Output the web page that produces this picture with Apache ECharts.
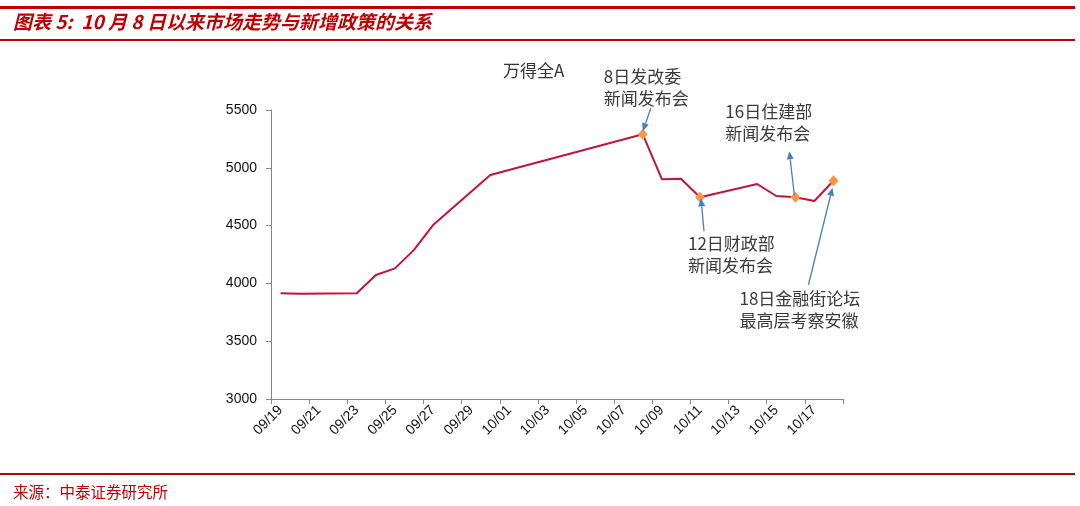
<!DOCTYPE html>
<html><head><meta charset="utf-8">
<script src="https://cdn.jsdelivr.net/npm/echarts@6/dist/echarts.min.js"></script>
<style>html,body{margin:0;padding:0;background:#fff}#c{width:1080px;height:506px}</style>
</head><body><div id="c"></div>
<script>
// ---- data ----
const categories = ['09/19','09/20','09/21','09/22','09/23','09/24','09/25','09/26','09/27','09/28','09/29','09/30',
  '10/01','10/02','10/03','10/04','10/05','10/06','10/07','10/08','10/09','10/10','10/11','10/12','10/13','10/14',
  '10/15','10/16','10/17','10/18'];
const values = [3915, 3910, null, null, 3914, 4073, 4130, 4290, 4505, null, null, 4938,
  null, null, null, null, null, null, null, 5290, 4902, 4905, 4745, null, null, 4860,
  4756, 4745, 4713, 4888];
const markerDates = ['10/08', '10/11', '10/16', '10/18'];
const yTicks = [3000, 3500, 4000, 4500, 5000, 5500];
const seriesName = '万得全A';
const pageTitle = '图表 5:  10 月 8 日以来市场走势与新增政策的关系';
const sourceText = '来源：中泰证券研究所';
const noteTexts = [
  ['8日发改委', '新闻发布会'],
  ['12日财政部', '新闻发布会'],
  ['16日住建部', '新闻发布会'],
  ['18日金融街论坛', '最高层考察安徽']
];

// ---- chart ----
const chart = echarts.init(document.getElementById('c'), null, {renderer: 'canvas'});
const RED = '#C00000';
const seriesData = values.map((v, i) => markerDates.includes(categories[i]) && v != null
  ? {value: v, symbol: 'diamond', symbolSize: [10, 11], itemStyle: {color: '#F79646'}}
  : v);

const option = {
  animation: false,
  backgroundColor: '#fff',
  grid: {left: 271, top: 110, width: 572, height: 289, containLabel: false},
  xAxis: {
    type: 'category', data: categories, boundaryGap: true,
    axisLine: {lineStyle: {color: '#868686', width: 1}},
    axisTick: {show: true, interval: 1, length: 5, lineStyle: {color: '#868686'}},
    axisLabel: {interval: 1, rotate: 45, fontSize: 14, color: '#111', fontFamily: 'Liberation Sans, Arial', margin: 9},
    splitLine: {show: false}
  },
  yAxis: {
    type: 'value', min: yTicks[0], max: yTicks[yTicks.length - 1], interval: 500,
    axisLine: {show: true, lineStyle: {color: '#868686', width: 1}},
    axisTick: {show: true, length: 5, lineStyle: {color: '#868686'}},
    axisLabel: {fontSize: 14, color: '#111', fontFamily: 'Liberation Sans, Arial', margin: 14,
      formatter: v => String(v)},
    splitLine: {show: false}
  },
  series: [{
    name: seriesName, type: 'line', data: seriesData, connectNulls: true,
    symbol: 'none', showSymbol: true, showAllSymbol: true,
    lineStyle: {color: '#C0143C', width: 2},
    itemStyle: {color: '#C0143C'},
    z: 3
  }]
};
chart.setOption(option);

function px(date) {
  const i = categories.indexOf(date);
  return chart.convertToPixel({xAxisIndex: 0, yAxisIndex: 0}, [i, values[i]]);
}
function arrow(x1, y1, x2, y2) {
  const col = '#4A7EBB';
  const dx = x2 - x1, dy = y2 - y1, L = Math.hypot(dx, dy);
  const ux = dx / L, uy = dy / L, hl = 8, hw = 3.5;
  const bx = x2 - ux * hl, by = y2 - uy * hl;
  return [
    {type: 'line', shape: {x1, y1, x2: bx, y2: by}, style: {stroke: col, lineWidth: 1.3}, z: 10},
    {type: 'polygon', shape: {points: [[x2, y2], [bx - uy * hw, by + ux * hw], [bx + uy * hw, by - ux * hw]]},
      style: {fill: col}, z: 10}
  ];
}
function note(lines, x, y) {
  return {type: 'text', left: x, top: y, z: 10,
    style: {text: lines.join('\n'), font: '17px "Noto Sans CJK SC", sans-serif', fill: '#3a3a3a', lineHeight: 22}};
}

const p8 = px('10/08'), p11 = px('10/11'), p16 = px('10/16'), p18 = px('10/18');
const g = [
  // page frame
  {type: 'rect', shape: {x: 0, y: 6, width: 1075, height: 3}, style: {fill: RED}},
  {type: 'rect', shape: {x: 0, y: 39, width: 1075, height: 2}, style: {fill: RED}},
  {type: 'rect', shape: {x: 0, y: 473, width: 1075, height: 2}, style: {fill: RED}},
  {type: 'text', left: 13, top: 12, style: {text: pageTitle, font: 'italic bold 19px "Noto Sans CJK SC", sans-serif', fill: RED}},
  {type: 'text', left: 13, top: 484, style: {text: sourceText, font: '15.5px "Noto Sans CJK SC", sans-serif', fill: RED}},
  // chart title
  {type: 'text', left: 503, top: 62, style: {text: seriesName, font: '17px "Noto Sans CJK SC", sans-serif', fill: '#333'}},
  // notes
  note(noteTexts[0], p8[0] - 39, p8[1] - 69),
  note(noteTexts[1], p11[0] - 12, p11[1] + 35),
  note(noteTexts[2], p16[0] - 70, p16[1] - 97),
  note(noteTexts[3], p18[0] - 94, p18[1] + 107),
  ...arrow(p8[0] + 8, p8[1] - 26, p8[0], p8[1] - 3),
  ...arrow(p11[0] + 4, p11[1] + 34, p11[0] + 1, p11[1] + 1),
  ...arrow(p16[0] - 1, p16[1] - 2, p16[0] - 6, p16[1] - 46),
  ...arrow(p18[0] - 25, p18[1] + 104, p18[0] - 1, p18[1] + 7)
];
chart.setOption({graphic: {elements: g}});
</script>
</body></html>
